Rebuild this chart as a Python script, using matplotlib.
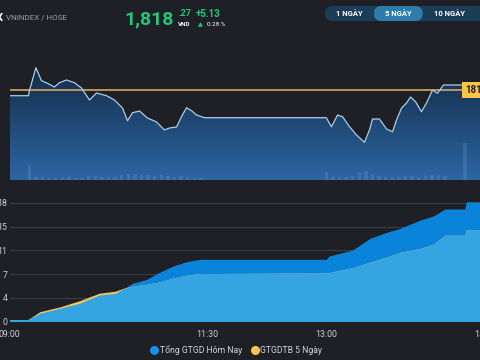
import matplotlib
matplotlib.use("Agg")
import matplotlib.pyplot as plt
import numpy as np
from matplotlib.colors import LinearSegmentedColormap
from matplotlib.lines import Line2D
from matplotlib.patches import FancyBboxPatch

plt.rcParams["font.family"] = ["Roboto", "DejaVu Sans"]

BG = "#1e2026"
W, H = 480, 360

# ---- data -------------------------------------------------------------
# minutes after 09:00
price_time = [0, 14.4, 15, 20, 24.2, 28.8, 34, 37.9, 43.2, 49.2, 54.5, 60.6,
              65.9, 73.5, 79.5, 85.6, 89.4, 93.2, 98.5, 104.5, 111.4, 117.4,
              121.2, 126.5, 130.3, 134.1, 137.9, 141.7, 147.7, 240, 243.9,
              248.5, 252.3, 257.6, 262.9, 268.9, 272.7, 275, 280.3, 285.6,
              290.2, 293.2, 297, 300.8, 303.8, 307.6, 312.1, 315.9, 320.5,
              324.2, 328.8, 345, 360]
price = [1807.44, 1807.44, 1812.0, 1835.44, 1822.44, 1819.8, 1816.14, 1820.44,
         1823.14, 1820.44, 1815.14, 1803.14, 1810.14, 1807.44, 1803.14,
         1795.14, 1782.44, 1790.44, 1792.14, 1785.14, 1781.14, 1773.14,
         1775.14, 1776.14, 1786.44, 1795.44, 1792.44, 1788.14, 1785.44,
         1785.44, 1776.44, 1788.14, 1786.44, 1776.44, 1768.14, 1760.84,
         1773.14, 1784.14, 1784.14, 1774.14, 1771.44, 1783.14, 1795.14,
         1800.14, 1806.14, 1801.44, 1791.44, 1800.14, 1813.14, 1809.84,
         1818.14, 1818.14, 1818.14]
ref_price = 1813.14

vol_time = ([15] + list(range(20, 150, 5)) + list(range(240, 335, 5)) + [345])
volume = [75,
          15, 15, 10, 10, 10, 15, 10, 10, 20, 20, 15, 15, 15, 25, 30, 30, 25,
          25, 20, 25, 20, 15, 20, 15, 10, 10,
          40, 15, 15, 15, 20, 40, 45, 30, 20, 15, 15, 15, 20, 20, 15, 20, 25,
          25, 20,
          185]

value_time = [0, 14, 23, 38, 53, 68, 80, 87, 93, 104, 114, 124, 134, 144,
              150, 240, 242, 260, 273, 286, 296, 311, 321, 330, 345, 346, 360]
value_today = [0.31, 0.31, 1.28, 2.06, 2.84, 4.13, 4.39, 5.17, 5.95, 6.57,
               7.71, 8.65, 9.32, 9.69, 9.69, 9.69, 10.2, 11.14, 12.96, 13.91,
               14.52, 15.81, 16.44, 17.53, 17.53, 18.66, 18.66]
value_avg5 = [0.31, 0.31, 1.53, 2.27, 3.24, 4.41, 4.72, 5.23, 5.50, 5.81,
              6.17, 6.79, 7.21, 7.48, 7.48, 7.57, 7.62, 8.41, 9.24, 10.06,
              10.8, 11.37, 12.04, 13.45, 13.45, 14.33, 14.33]

value_ticks = [0, 3.7, 7.4, 11.1, 14.8, 18.5]
value_tick_labels = ["0", "4", "7", "11", "15", "18"]
time_ticks = [0, 150, 240, 360]
time_tick_labels = ["09:00", "11:30", "13:00", "15:00"]
periods = ["1 NGÀY", "5 NGÀY", "10 NGÀY"]


def fx(px):
    return px / W


def fy(py):
    return 1 - py / H


fig = plt.figure(figsize=(W / 100, H / 100), dpi=100, facecolor=BG)

left = 9.5
span = 360 * 1.32

# ---- price panel ------------------------------------------------------
ax = fig.add_axes([fx(left), fy(180), span / W, 140 / H])
ax.set_facecolor(BG)
ymin, ymax = ref_price - 90, ref_price + 50
ax.set_xlim(0, 360)
ax.set_ylim(ymin, ymax)

poly = ax.fill_between(price_time, price, ymin, facecolor="none",
                       edgecolor="none")
cmap = LinearSegmentedColormap.from_list("fade", ["#2c66a3", "#101e32"])
grad = np.linspace(0, 1, 256).reshape(-1, 1)
img = ax.imshow(grad, extent=[0, 360, ymin, ymax], aspect="auto",
                cmap=cmap, origin="lower", zorder=1)
img.set_clip_path(poly.get_paths()[0], transform=ax.transData)

axv = ax.twinx()
axv.set_ylim(0, 700)
axv.bar(vol_time, volume, width=2.5, color="#7aa8da", alpha=0.22,
        linewidth=0, zorder=2)
axv.axis("off")

ax.plot(price_time, price, color="#a9cde8", lw=0.9, zorder=4)
ax.axhline(ref_price, color="#cfa964", lw=1.2, zorder=3)
ax.text(345.5, ref_price, "1813.14", color="#1e2026", fontsize=7,
        fontweight="bold", va="center", ha="left", zorder=6, clip_on=False,
        bbox=dict(boxstyle="square,pad=0.35", fc="#f7c548", ec="none"))
ax.axis("off")

# ---- value panel ------------------------------------------------------
bx = fig.add_axes([fx(left), fy(321.5), span / W, (321.5 - 181) / H])
bx.set_facecolor(BG)
bx.set_xlim(0, 360)
bx.set_ylim(0, 21.9)
today = np.array(value_today)
avg5 = np.array(value_avg5)
bx.fill_between(value_time, 0, today, color="#0a84da", lw=0, zorder=2)
bx.fill_between(value_time, 0, avg5, color="#f2c55c", lw=0, zorder=3)
bx.fill_between(value_time, 0, np.minimum(today, avg5), color="#35a5e1",
                lw=0, zorder=4)
bx.set_yticks(value_ticks)
bx.set_yticklabels(value_tick_labels)
bx.set_xticks(time_ticks)
bx.set_xticklabels(time_tick_labels)
bx.grid(axis="y", color="#3b3e46", lw=0.8, zorder=1)
bx.tick_params(axis="both", length=0, colors="#c8ccd4", labelsize=6.3)
bx.tick_params(axis="y", pad=1.5)
bx.tick_params(axis="x", pad=6)
for s in bx.spines.values():
    s.set_visible(False)
bx.set_axisbelow(True)

handles = [Line2D([], [], marker="o", ls="", color="#1a8fe3", markersize=5.5),
           Line2D([], [], marker="o", ls="", color="#f5c451", markersize=5.5)]
fig.legend(handles, ["Tổng GTGD Hôm Nay", "GTGDTB 5 Ngày"], loc="center",
           bbox_to_anchor=(fx(236), fy(350)), ncol=2, frameon=False,
           fontsize=6.2, labelcolor="#d0d4dc", handletextpad=0.15,
           columnspacing=1.0, handlelength=1.0)

# ---- header -----------------------------------------------------------
fig.text(fx(-4), fy(18), "X", color="white", fontsize=8, fontweight="bold",
         va="center")
fig.text(fx(6), fy(18), "VNINDEX / HOSE", color="#9aa0aa", fontsize=5.8,
         va="center")
green = "#22c97a"
fig.text(fx(124), fy(19), "1,818", color=green, fontsize=14,
         fontweight="bold", va="center")
fig.text(fx(178), fy(14), ".27", color=green, fontsize=6.5,
         fontweight="bold", va="center")
fig.text(fx(178), fy(24.5), "VND", color="white", fontsize=4.5,
         fontweight="bold", va="center")
fig.text(fx(196), fy(14), "+5.13", color=green, fontsize=7,
         fontweight="bold", va="center")
fig.text(fx(197.5), fy(25), "▲", color=green, fontsize=4.5, va="center",
         family=["DejaVu Sans"])
fig.text(fx(207), fy(24.5), "0.28 %", color="white", fontsize=4.5,
         va="center")

inch = fig.dpi_scale_trans
fig.add_artist(FancyBboxPatch((3.25, (H - 21) / 100), 2.2, 0.15,
                              boxstyle="round,pad=0,rounding_size=0.075",
                              fc="#1c3d58", ec="none", transform=inch))
fig.add_artist(FancyBboxPatch((3.74, (H - 21) / 100), 0.487, 0.15,
                              boxstyle="round,pad=0,rounding_size=0.075",
                              fc="#2c7dab", ec="none", transform=inch))
for label, cx in zip(periods, [349, 398, 449]):
    fig.text(fx(cx), fy(13.5), label, color="white", fontsize=5.5,
             fontweight="bold", ha="center", va="center")

fig.savefig("out.png", dpi=100, facecolor=BG)
